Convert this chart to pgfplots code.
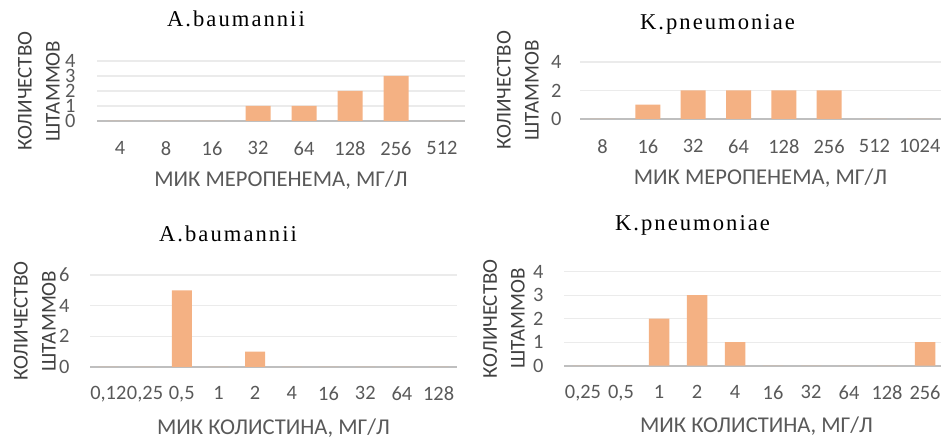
\documentclass[border=0pt]{standalone}
\usepackage{pgfplots}
\pgfplotsset{compat=1.18}
\usepackage{fontspec}
\setmainfont{Carlito}
\newfontfamily\titlefont[LetterSpace=9]{Liberation Serif}
\definecolor{barc}{HTML}{F4B183}
\definecolor{gridc}{HTML}{EBEBEB}
\definecolor{basec}{HTML}{BFBFBF}
\definecolor{txt}{HTML}{595959}
\definecolor{lab}{HTML}{404040}

\pgfplotsset{
  every axis title shift=0pt,
  panel/.style={
    scale only axis,
    ybar, bar shift=0pt,
    axis x line=bottom, axis y line=left,
    x axis line style={draw=basec, line width=1.1pt, -},
    y axis line style={draw=none},
    major tick length=0pt,
    ymajorgrids, grid style={draw=gridc, line width=0.6pt},
    ymin=0, xmin=-0.5,
    /pgf/number format/assume math mode=true,
    xticklabel style={font=\fontsize{10.2}{11}\selectfont, text=txt, anchor=north, yshift=-6.8pt},
    yticklabel style={font=\fontsize{10.2}{11}\selectfont, text=txt},
    ylabel={КОЛИЧЕСТВО\\ШТАММОВ},
    ylabel style={align=center, font=\fontsize{10.5}{14}\selectfont, text=lab,
      at={(axis description cs:0,0.5)}, anchor=center, rotate=0},
    xlabel style={font=\fontsize{11.3}{12}\selectfont, text=txt,
      at={(axis description cs:0.5,0)}, anchor=base},
    title style={font=\titlefont\fontsize{11.3}{13}\selectfont, text=black,
      at={(axis description cs:0.5,1)}, anchor=base},
  },
}

\begin{document}
\begin{tikzpicture}
\useasboundingbox (0,0) rectangle (470.5pt,218.5pt);

% Panel 1
\begin{axis}[panel, at={(48.5pt,158pt)}, anchor=south west,
  width=184pt, height=30pt, xmax=7.5, ymax=4, ytick={0,1,2,3,4},
  bar width=12.5pt,
  xtick={0,...,7}, xticklabels={4,8,16,32,64,128,256,512},
  yticklabel style={xshift=-7.25pt},
  ylabel style={yshift=29pt},
  xlabel={МИК МЕРОПЕНЕМА, МГ/Л}, xlabel style={yshift=-32.85pt},
  title={A.baumannii}, title style={yshift=17.2pt, xshift=-22.5pt}]
\addplot[fill=barc, draw=none] coordinates {(0,0) (1,0) (2,0) (3,1) (4,1) (5,2) (6,3) (7,0)};
\end{axis}

% Panel 2
\begin{axis}[panel, at={(290pt,159pt)}, anchor=south west,
  width=180.5pt, height=28.5pt, xmax=7.47, ymax=4, ytick={0,2,4},
  bar width=12.5pt,
  xtick={0,...,7}, xticklabels={8,16,32,64,128,256,512,1024},
  yticklabel style={xshift=-5.75pt},
  ylabel style={yshift=31pt},
  xlabel={МИК МЕРОПЕНЕМА, МГ/Л}, xlabel style={yshift=-32.65pt},
  title={K.pneumoniae}, title style={yshift=16.3pt, xshift=-21.5pt}]
\addplot[fill=barc, draw=none] coordinates {(0,0) (1,1) (2,2) (3,2) (4,2) (5,2) (6,0) (7,0)};
\end{axis}

% Panel 3
\begin{axis}[panel, at={(45pt,35pt)}, anchor=south west,
  width=183.5pt, height=46pt, xmax=9.5, ymax=6, ytick={0,2,4,6},
  bar width=10pt,
  xtick={0,...,9}, xticklabels={{0,12},{0,25},{0,5},1,2,4,16,32,64,128},
  xticklabel style={yshift=0.5pt},
  yticklabel style={xshift=-6.75pt},
  ylabel style={yshift=27.5pt},
  xlabel={МИК КОЛИСТИНА, МГ/Л}, xlabel style={yshift=-33.6pt},
  title={A.baumannii}, title style={yshift=16.6pt, xshift=-22.75pt}]
\addplot[fill=barc, draw=none] coordinates {(0,0) (1,0) (2,5) (3,0) (4,1) (5,0) (6,0) (7,0) (8,0) (9,0)};
\end{axis}

% Panel 4
\begin{axis}[panel, at={(282pt,35.65pt)}, anchor=south west,
  width=188.5pt, height=47pt, xmax=9.42, ymax=4, ytick={0,1,2,3,4},
  bar width=10.25pt,
  xtick={0,...,9}, xticklabels={{0,25},{0,5},1,2,4,16,32,64,128,256},
  xticklabel style={yshift=0.5pt},
  yticklabel style={xshift=-6.75pt},
  ylabel style={yshift=30pt},
  xlabel={МИК КОЛИСТИНА, МГ/Л}, xlabel style={yshift=-33.3pt, xshift=2pt},
  title={K.pneumoniae}, title style={yshift=20.35pt, xshift=-30pt}]
\addplot[fill=barc, draw=none] coordinates {(0,0) (1,0) (2,2) (3,3) (4,1) (5,0) (6,0) (7,0) (8,0) (9,1)};
\end{axis}
\end{tikzpicture}
\end{document}
